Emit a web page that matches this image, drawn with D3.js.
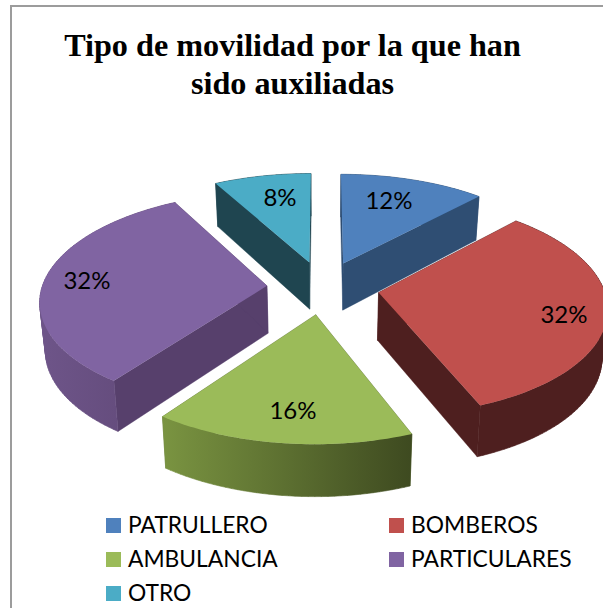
<!DOCTYPE html>
<html><head><meta charset="utf-8">
<script src="https://cdn.jsdelivr.net/npm/d3@7"></script>
<style>html,body{margin:0;padding:0;background:#fff;overflow:hidden}</style></head>
<body><svg id="c" width="603" height="608"></svg>
<script>
const categories=["PATRULLERO","BOMBEROS","AMBULANCIA","PARTICULARES","OTRO"];
const values=[12,32,16,32,8];
const colors=["#4f81bd","#c0504d","#9bbb59","#8064a2","#4bacc6"];
const wallColors=["#2f4e73","#4e1f1f","#5e7035","#57406c","#1f4550"];
const outerFrom=["#2f4e73","#4e1f1f","#7a9441","#6e5589","#1f4550"];
const outerTo=["#2f4e73","#4e1f1f","#3e4a20","#5f4776","#1f4550"];
const titleLines=["Tipo de movilidad por la que han","sido auxiliadas"];
const labelPos=[[389,201],[564,315],[293,411],[87,281],[280,198]];

const svg=d3.select("#c");
svg.append("rect").attr("x",11).attr("y",6).attr("width",640).attr("height",640).attr("fill","#fff").attr("stroke","#9c9c9c").attr("stroke-width",2);
const defs=svg.append("defs");

const pie=d3.pie().sort(null).value(d=>d).startAngle(0).endAngle(2*Math.PI);
const arcs=pie(values);
const cx=323,cy=287.5,R=225,S=106,k=0.125,e=0.25,D=47.5,Dk=3.9,shrink=0.98;
function topPt(X,Y){const f=1/(1+k*Y);return [cx+R*X*f,cy-S*Y*f];}
function botPt(X,Y){const p=topPt(X,Y);return [cx+(p[0]-cx)*shrink,p[1]+D-Dk*Y];}
const line=d3.line();
const order=[4,0,3,1,2];
order.forEach(i=>{
  const a=arcs[i],m=(a.startAngle+a.endAngle)/2;
  const ox=e*Math.sin(m),oy=e*Math.cos(m);
  const n=Math.max(8,Math.round((a.endAngle-a.startAngle)*40));
  const angs=d3.range(n+1).map(j=>a.startAngle+(a.endAngle-a.startAngle)*j/n);
  const rim=angs.map(t=>[ox+Math.sin(t),oy+Math.cos(t)]);
  const apex=[ox,oy];
  const g=svg.append("g");
  const gid="o"+i;
  const tp=rim.map(p=>topPt(p[0],p[1])),bt=rim.map(p=>botPt(p[0],p[1]));
  const lg=defs.append("linearGradient").attr("id",gid).attr("gradientUnits","userSpaceOnUse")
    .attr("x1",d3.min(tp,p=>p[0])).attr("x2",d3.max(tp,p=>p[0])).attr("y1",0).attr("y2",0);
  lg.append("stop").attr("offset",0).attr("stop-color",outerFrom[i]);
  lg.append("stop").attr("offset",1).attr("stop-color",outerTo[i]);
  [rim[0],rim[n]].forEach(p=>{
    g.append("path").attr("fill",wallColors[i]).attr("stroke",wallColors[i]).attr("stroke-width",0.4)
      .attr("d",line([topPt(...apex),topPt(...p),botPt(...p),botPt(...apex)])+"Z");
  });
  // outer wall: one consistently wound quad per rim segment, so the silhouette tangent is filled
  const quads=d3.range(n).map(j=>{
    const q=[tp[j],tp[j+1],bt[j+1],bt[j]];
    return d3.polygonArea(q)<0?q.slice().reverse():q;
  });
  g.append("path").attr("fill","url(#"+gid+")").attr("stroke","url(#"+gid+")").attr("stroke-width",0.6).attr("d",quads.map(q=>line(q)+"Z").join(""));
  g.append("path").attr("fill",colors[i]).attr("d",line([topPt(...apex)].concat(tp))+"Z");
});

const title=svg.append("g").attr("font-family","'Liberation Serif'").attr("font-weight","bold").attr("font-size",32.2).attr("text-anchor","middle").attr("fill","#000");
titleLines.forEach((t,i)=>title.append("text").attr("x",292.5).attr("y",[56,93.5][i]).text(t));

const font="Lato";
values.forEach((v,i)=>{
  svg.append("text").attr("x",labelPos[i][0]).attr("y",labelPos[i][1]).attr("dy","0.35em").attr("text-anchor","middle")
    .attr("font-family",font).attr("font-size",24).attr("fill","#000").text(v+"%");
});
const legX=[106,389],legY=[525.5,559.5,593.5];
categories.forEach((c,i)=>{
  const x=legX[i%2],y=legY[Math.floor(i/2)];
  svg.append("rect").attr("x",x).attr("y",y-7.5).attr("width",15).attr("height",15).attr("fill",colors[i]);
  svg.append("text").attr("x",x+22).attr("y",y).attr("dy","0.35em").attr("font-family",font).attr("font-size",22.8).attr("fill","#000").text(c);
});
</script></body></html>
